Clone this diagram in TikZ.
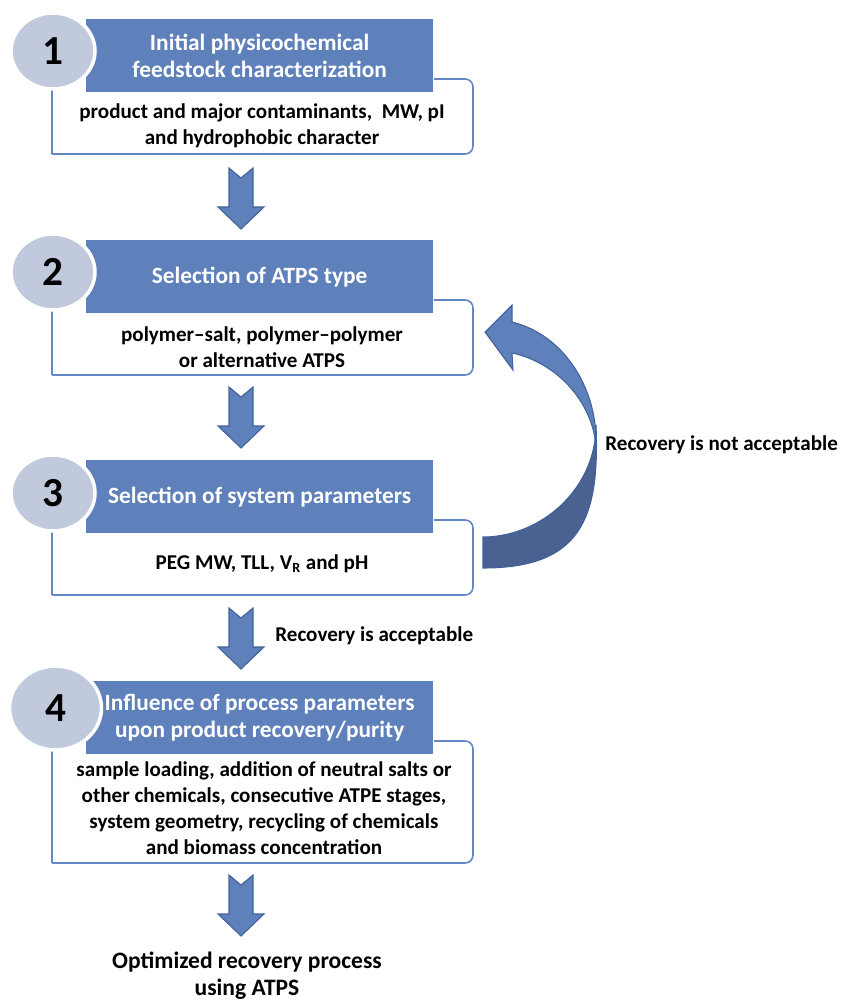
\documentclass[tikz,border=0pt]{standalone}
\usepackage{fontspec}
\setmainfont{Carlito}
\usetikzlibrary{shapes.geometric}

\definecolor{headblue}{RGB}{94,128,187}
\definecolor{discgray}{RGB}{193,202,220}
\definecolor{boxline}{RGB}{99,135,196}
\definecolor{arrowdark}{RGB}{74,97,146}
\definecolor{arrowedge}{RGB}{65,98,155}

\tikzset{
    headbar/.style={fill=headblue, draw=white, line width=0.8pt, text=white,
        font=\fontsize{13.3}{15.3}\selectfont\bfseries, align=center, inner sep=0pt,
        minimum width=6.96cm, minimum height=1.48cm, anchor=north west},
    numdisc/.style={ellipse, fill=discgray, draw=white, line width=2pt,
        font=\fontsize{23.5}{23.5}\selectfont\bfseries, inner sep=0pt,
        minimum width=1.68cm, minimum height=1.52cm},
    bodytext/.style={font=\fontsize{12}{14.8}\selectfont\bfseries, align=center, inner sep=0pt},
    boxedge/.style={draw=boxline, line width=0.9pt},
    blockarrow/.style={fill=headblue, draw=arrowedge, line width=0.6pt, line join=miter},
    downarrow/.pic={
        \filldraw[blockarrow] (-12,0) -- (0,10) -- (12,0) -- (12,39) -- (23,39)
            -- (0,61) -- (-23,39) -- (-12,39) -- cycle;
    }
}

\begin{document}
\begin{tikzpicture}[x=0.02cm, y=-0.02cm]
    \useasboundingbox (0,0) rectangle (841,1000);

    % boxes under the headers
    \foreach \y/\b in {18/154, 239/375, 459/595, 680/863} {
        \draw[boxedge, rounded corners=4.5pt] (52,\b) -| (473,\y+61) -- (300,\y+61);
        \draw[boxedge] (52,\y+61) -- (52,\b);
    }

    \node[headbar] (h1) at (85,18) {Initial physicochemical\\feedstock characterization};
    \node[headbar] (h2) at (85,239) {Selection of ATPS type};
    \node[headbar] (h3) at (85,459) {Selection of system parameters};
    \node[headbar] (h4) at (85,680) {Influence of process parameters\\upon product recovery/purity};

    \node[numdisc] (n1) at (53,51) {1};
    \node[numdisc] (n2) at (53,272) {2};
    \node[numdisc] (n3) at (53,493) {3};
    \node[numdisc, minimum width=1.84cm, minimum height=1.68cm] (n4) at (55.5,708) {4};

    \node[bodytext] (b1) at (262,126) {product and major contaminants,\ \ MW, pI\\and hydrophobic character};
    \node[bodytext] (b2) at (262,347) {polymer–salt, polymer–polymer\\or alternative ATPS};
    \node[bodytext] (b3) at (262,564) {PEG MW, TLL, V\textsubscript{R} and pH};
    \node[bodytext] (b4) at (264,808) {sample loading, addition of neutral salts or\\other chemicals, consecutive ATPE stages,\\system geometry, recycling of chemicals\\and biomass concentration};

    \foreach \y in {168, 387, 608, 875} {
        \pic at (241,\y) {downarrow};
    }

    % back arrow from step 3 to step 2
    \filldraw[fill=arrowdark, draw=arrowedge, line width=0.6pt]
        (483,537) .. controls (540,537) and (596,490) .. (596,425)
        .. controls (600,520) and (580,568) .. (483,568) -- cycle;
    \filldraw[fill=headblue, draw=arrowedge, line width=0.6pt]
        (596,446) .. controls (598,390) and (565,335) .. (512,322)
        -- (512,305) -- (485,332) -- (513,370) -- (512,353)
        .. controls (555,362) and (592,400) .. (596,446) -- cycle;

    \node[bodytext, anchor=west] (nok) at (605,445) {Recovery is not acceptable};
    \node[bodytext, anchor=west] (ok) at (275,636) {Recovery is acceptable};
    \node[bodytext, font=\fontsize{13.4}{15.5}\selectfont\bfseries] (res) at (247,976) {Optimized recovery process\\using ATPS};
\end{tikzpicture}
\end{document}
